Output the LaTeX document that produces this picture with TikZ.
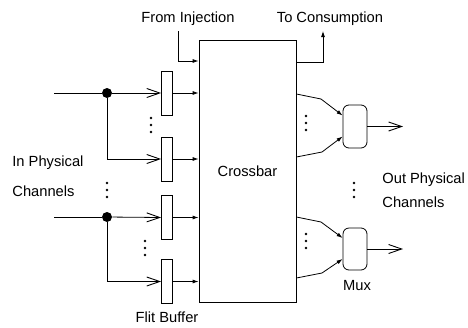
\documentclass[tikz,border=0pt]{standalone}
\usepackage{fontspec}
\setmainfont{Liberation Sans}
\usetikzlibrary{arrows.meta,calc}
\begin{document}
\begin{tikzpicture}[x=1pt,y=-1pt,
  line width=0.8pt,
  every node/.style={font=\fontsize{14.7}{17}\selectfont},
  buf/.style={draw,rectangle,minimum width=11pt,minimum height=44pt,inner sep=0pt},
  muxbox/.style={draw,rectangle,rounded corners=6pt,minimum width=24pt,minimum height=43pt,inner sep=0pt},
  junction/.style={circle,fill,inner sep=0pt,minimum size=10pt},
  bigarrow/.style={-{Straight Barb[length=13pt,width=9pt,line width=0.9pt]}},
  smallarrow/.style={-{Latex[length=6pt,width=4pt]}},
  lbl/.style={inner sep=0pt}
]
\useasboundingbox (0,0) rectangle (468,327);

% crossbar
\node[draw,rectangle,minimum width=97pt,minimum height=262pt,inner sep=0pt] (xb) at (247.5,171) {Crossbar};

% buffers
\node[buf] (b1) at (167,93) {};
\node[buf] (b2) at (167,159) {};
\node[buf] (b3) at (167,217.5) {};
\node[buf] (b4) at (167,281.5) {};

% junctions and inputs
\node[junction] (j1) at (107,93) {};
\node[junction] (j2) at (107,217) {};
\coordinate (i1) at (54,93);
\coordinate (i2) at (54,217);

\draw (i1) -- (j1);
\draw[bigarrow] (j1) -- (b1.west);
\draw[bigarrow] (j1) |- (b2.west);
\draw (i2) -- (j2);
\draw[bigarrow] (j2) -- (b3.west);
\draw[bigarrow] (j2) |- (b4.west);

\foreach \b in {b1,b2,b3,b4}
  \draw[smallarrow] (\b.east) -- (\b.east -| xb.west);

% injection / consumption
\node[lbl] (inj) at (188,19) {From Injection};
\node[lbl] (con) at (330,19) {To Consumption};
\coordinate (fi) at (178,31);
\coordinate (fiy) at (0,61);
\draw[smallarrow] (fi) |- (xb.west |- fiy);
\coordinate (tc) at (323,31);
\coordinate (tcy) at (0,62);
\draw[smallarrow] (xb.east |- tcy) -| (tc);

% muxes
\node[muxbox] (m1) at (355,126.5) {};
\node[muxbox,minimum height=42pt] (m2) at (355,249) {};

\coordinate (a1) at (0,94);
\coordinate (a2) at (0,157);
\coordinate (a3) at (0,217);
\coordinate (a4) at (0,278);
\draw[smallarrow] (xb.east |- a1) -- (321,99) -- ([yshift=11pt]m1.west);
\draw[smallarrow] (xb.east |- a2) -- (322,152) -- ([yshift=-10pt]m1.west);
\draw[smallarrow] (xb.east |- a3) -- (321,222) -- ([yshift=11pt]m2.west);
\draw[smallarrow] (xb.east |- a4) -- (322,273) -- ([yshift=-10pt]m2.west);

\coordinate (o1) at (403,126.5);
\coordinate (o2) at (403,249);
\draw[bigarrow] (m1.east) -- (o1);
\draw[bigarrow] (m2.east) -- (o2);

% ellipsis dots
\foreach \x/\y in {151/118, 107/183, 145/241, 306/116, 306/234, 354/183}
  \foreach \k in {0,7,14}
    \fill (\x,\y+\k) circle (1.3pt);

% labels
\node[lbl,anchor=west] at (12,163) {In Physical};
\node[lbl,anchor=west] at (12,191) {Channels};
\node[lbl,anchor=west] at (382,180) {Out Physical};
\node[lbl,anchor=west] at (382,202) {Channels};
\node[lbl] at (357,286) {Mux};
\node[lbl] at (167,317) {Flit Buffer};
\end{tikzpicture}
\end{document}
